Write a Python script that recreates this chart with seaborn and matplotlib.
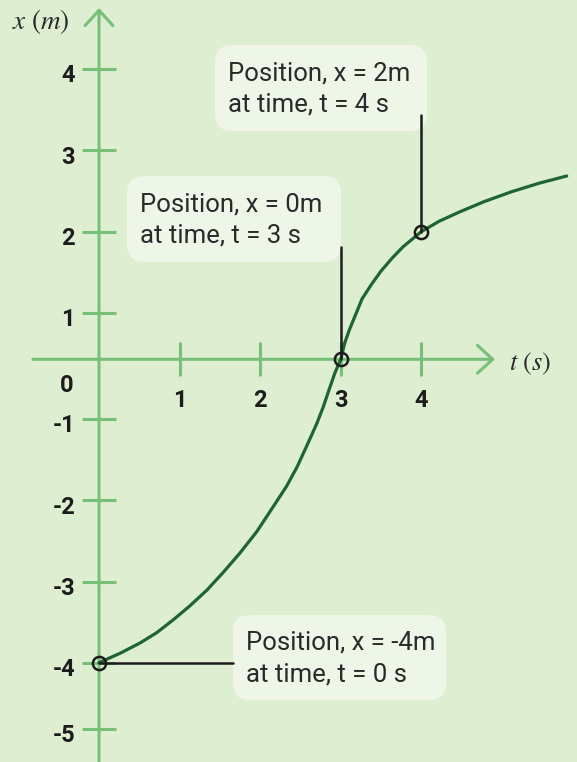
import numpy as np
import matplotlib
matplotlib.use("Agg")
import matplotlib.pyplot as plt
import seaborn as sns
from matplotlib.patches import FancyBboxPatch
from matplotlib.transforms import ScaledTranslation

# ---- data -------------------------------------------------------------
t_curve = [0.0, 0.261, 0.509, 0.716, 0.918, 1.129, 1.340, 1.542, 1.749,
           1.957, 2.159, 2.329, 2.457, 2.577, 2.705, 2.783, 2.866, 2.928,
           3.0, 3.048, 3.108, 3.186, 3.264, 3.381, 3.499, 3.636, 3.773,
           4.0, 4.222, 4.478, 4.778, 5.119, 5.460, 5.803]
x_curve = [-4.0, -3.884, -3.757, -3.630, -3.474, -3.298, -3.104, -2.886,
           -2.648, -2.385, -2.081, -1.822, -1.588, -1.329, -1.046, -0.790,
           -0.462, -0.223, 0.0, 0.349, 0.639, 0.968, 1.171, 1.350, 1.513,
           1.672, 1.813, 2.0, 2.128, 2.244, 2.369, 2.491, 2.596, 2.685]

marker_t = [0, 3, 4]
marker_x = [-4, 0, 2]

t_ticks = [1, 2, 3, 4]
t_tick_labels = ["1", "2", "3", "4"]
x_ticks = [4, 3, 2, 1, -1, -2, -3, -4, -5]
x_tick_labels = ["4", "3", "2", "1", "-1", "-2", "-3", "-4", "-5"]

# ---- style ------------------------------------------------------------
BG = "#ddeed1"
BOX = "#edf6e7"
AXIS = "#78c07a"
CURVE = "#1f6432"
INK = "#1c1c1c"
TEXT = "#2a2a2a"

sns.set_theme(style="white")
plt.rcParams["font.family"] = ["Roboto", "DejaVu Sans"]
plt.rcParams["mathtext.fontset"] = "stix"

W, H, DPI = 577, 762, 100
fig = plt.figure(figsize=(W / DPI, H / DPI), dpi=DPI, facecolor=BG)
ax = fig.add_axes([0, 0, 1, 1])
ax.set_facecolor(BG)


def P(x, y):
    """pixel position (from top-left) -> inches for fig.dpi_scale_trans"""
    return x / DPI, (H - y) / DPI


# curve and marked points
sns.lineplot(x=t_curve, y=x_curve, ax=ax, color=CURVE, lw=2.3,
             sort=False, estimator=None, zorder=4)
ax.plot(marker_t, marker_x, ls="none", marker="o", ms=9.5, mfc="none",
        mec=INK, mew=1.8, zorder=6)

# schematic vertical scale: the band around the time axis is drawn narrower
Y_KNOTS = np.array([-6.0, -5.0, -4.0, -1.0, 0.0, 1.0, 4.0, 5.0])
Y_PIX = np.array([795.9, 729.3, 662.7, 419.3, 359.3, 312.7, 69.3, -11.8])


def fwd(v):
    return -np.interp(v, Y_KNOTS, Y_PIX)


def inv(v):
    return np.interp(v, -Y_PIX, Y_KNOTS)


ax.set_yscale("function", functions=(fwd, inv))
T0_PX, T_UNIT = 99.0, 80.6
ax.set_xlim(-T0_PX / T_UNIT, (W - T0_PX) / T_UNIT)
ax.set_ylim(float(inv(-H)), float(inv(0.0)))

# axes through the origin
for side in ("top", "right"):
    ax.spines[side].set_visible(False)
ax.spines["left"].set_position(("data", 0))
ax.spines["bottom"].set_position(("data", 0))
ax.spines["left"].set_color("none")
ax.spines["bottom"].set_color("none")

ax.set_xticks(t_ticks, labels=t_tick_labels)
ax.set_yticks(x_ticks, labels=x_tick_labels)
ax.minorticks_off()
ax.tick_params(axis="both", direction="inout", length=24.5, width=2.2,
               color=AXIS, labelcolor=INK, labelsize=17,
               bottom=True, left=True)
ax.tick_params(axis="x", pad=9)
ax.tick_params(axis="y", pad=5)
shift = ScaledTranslation(0, -3 / 72, fig.dpi_scale_trans)
for lab in ax.get_xticklabels() + ax.get_yticklabels():
    lab.set_fontweight("bold")
for lab in ax.get_yticklabels():
    lab.set_transform(lab.get_transform() + shift)

arrow = dict(arrowstyle="->,head_length=0.55,head_width=0.5", lw=2.2,
             color=AXIS, shrinkA=0, shrinkB=0, mutation_scale=20)
ax.annotate("", xy=(0, 1 - 8 / H), xytext=(0, 0),
            xycoords=("data", "axes fraction"), arrowprops=arrow, zorder=2)
ax.annotate("", xy=(495 / W, 0), xytext=(33 / W, 0),
            xycoords=("axes fraction", "data"), arrowprops=arrow, zorder=2)

ax.text(*P(12, 22), r"$x\ (m)$", transform=fig.dpi_scale_trans,
        ha="left", va="center", fontsize=19.5, color=TEXT)
ax.text(*P(509, 364), r"$t\ (s)$", transform=fig.dpi_scale_trans,
        ha="left", va="center", fontsize=19, color=TEXT)
ax.text(*P(67, 385), "0", transform=fig.dpi_scale_trans, ha="center",
        va="center", fontsize=17, fontweight="bold", color=INK)

# callouts: (left, top, right, bottom) in pixels
boxes = [(233, 615, 446, 700), (127, 176, 341, 262), (215, 45, 427, 131)]
for (l, tp, r, b), tv, xv in zip(boxes, marker_t, marker_x):
    x0, y0 = P(l, b)
    patch = FancyBboxPatch((x0, y0), (r - l) / DPI, (b - tp) / DPI,
                           boxstyle="round,pad=0,rounding_size=0.17",
                           transform=fig.dpi_scale_trans, fc=BOX, ec="none",
                           zorder=3, clip_on=False)
    ax.add_patch(patch)
    ax.text(*P(l + 13, (tp + b) / 2 + 1),
            f"Position, x = {xv}m\nat time, t = {tv} s",
            transform=fig.dpi_scale_trans, ha="left", va="center",
            fontsize=18.5, linespacing=1.4, color=TEXT, zorder=7)

# leader lines from the marked points to their callouts
ax.plot([0, 1.66], [-4, -4], color=INK, lw=1.8, zorder=5)
ax.plot([3, 3], [0, 1.81], color=INK, lw=1.8, zorder=5)
ax.plot([4, 4], [2, 3.44], color=INK, lw=1.8, zorder=5)

fig.savefig("out.png", dpi=DPI, facecolor=BG)
